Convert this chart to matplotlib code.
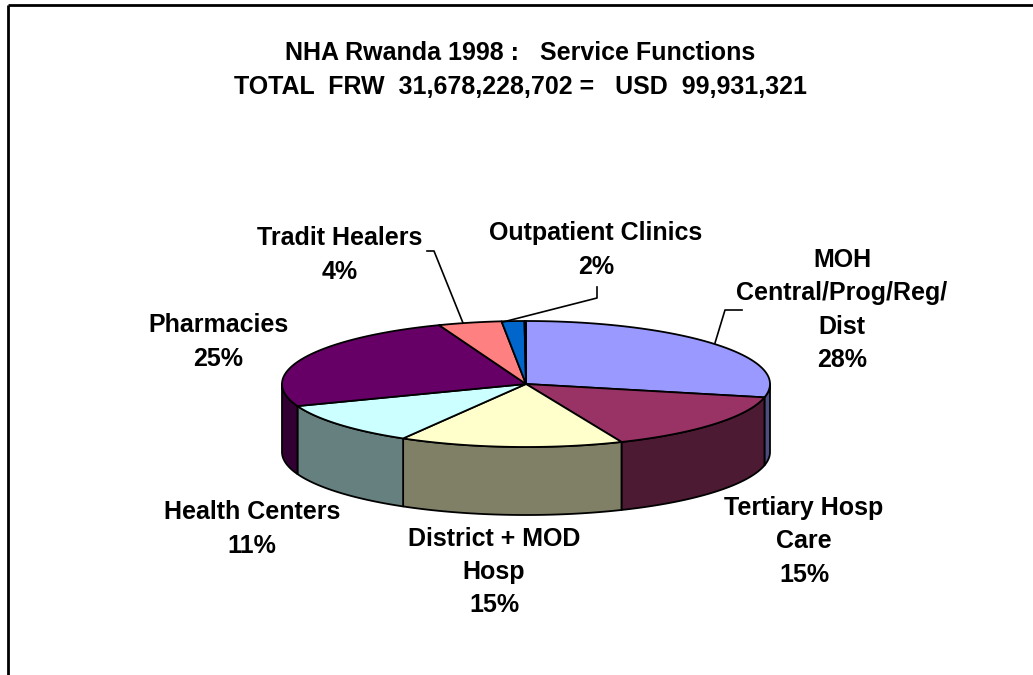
import numpy as np
import matplotlib
matplotlib.use("Agg")
import matplotlib.pyplot as plt
from matplotlib.patches import Polygon

# ---- data ----
categories = ["MOH\nCentral/Prog/Reg/\nDist", "Tertiary Hosp\nCare", "District + MOD\nHosp",
              "Health Centers", "Pharmacies", "Tradit Healers", "Outpatient Clinics", "Other"]
values = [28.4, 15.2, 14.8, 10.9, 24.9, 4.2, 1.5, 0.1]
show_label = [True, True, True, True, True, True, True, False]
top_colors = ["#9999FF", "#993366", "#FFFFCC", "#CCFFFF", "#660066", "#FF8080", "#0066CC", "#FFFFFF"]
title_lines = ["NHA Rwanda 1998 :   Service Functions",
               "TOTAL  FRW  31,678,228,702 =   USD  99,931,321"]

# ---- layout (pixel space) ----
W, H = 1033, 675
cx, cy, rx, ry, depth = 526, 384, 244, 63, 68
label_pos = [(842, 310), (804, 541), (494, 572), (252, 529), (218, 342), (340, 255), (596, 250), None]
leaders = [
    [(742, 310), (725, 310), (715, 343)],
    None, None, None, None,
    [(427, 251), (434, 251), (463, 323)],
    [(597, 287), (597, 298), (503, 322)],
    None,
]

def shade(c, f=0.5):
    r, g, b = matplotlib.colors.to_rgb(c)
    return (r * f, g * f, b * f)

fig = plt.figure(figsize=(W / 100, H / 100), dpi=100)
ax = fig.add_axes([0, 0, 1, 1])
ax.set_xlim(0, W)
ax.set_ylim(H, 0)
ax.axis("off")

def pt(theta_deg, dy=0.0):
    t = np.radians(theta_deg)
    return cx + rx * np.sin(t), cy - ry * np.cos(t) + dy

total = float(sum(values))
bounds = np.concatenate([[0], np.cumsum(values) / total * 360.0])

# side walls
for i, v in enumerate(values):
    a0, a1 = bounds[i], bounds[i + 1]
    s0, s1 = max(a0, 90), min(a1, 270)
    if s1 > s0:
        th = np.linspace(s0, s1, 100)
        up = [pt(t) for t in th]
        lo = [pt(t, depth) for t in th[::-1]]
        ax.add_patch(Polygon(up + lo, closed=True, facecolor=shade(top_colors[i]),
                             edgecolor="black", lw=1.3, zorder=1, joinstyle="round"))

# top faces
for i, v in enumerate(values):
    a0, a1 = bounds[i], bounds[i + 1]
    th = np.linspace(a0, a1, max(3, int((a1 - a0) * 2)))
    poly = [(cx, cy)] + [pt(t) for t in th]
    ax.add_patch(Polygon(poly, closed=True, facecolor=top_colors[i],
                         edgecolor="black", lw=1.3, zorder=2, joinstyle="round"))

font = dict(family="Liberation Sans", weight="bold", fontsize=18, color="black")

for i, v in enumerate(values):
    if not show_label[i]:
        continue
    x, y = label_pos[i]
    ax.text(x, y, f"{categories[i]}\n{v:.0f}%", ha="center", va="center",
            linespacing=1.5, zorder=5, **font)
    if leaders[i]:
        xs, ys = zip(*leaders[i])
        ax.plot(xs, ys, color="black", lw=1.2, zorder=4)

ax.text(520, 70, "\n".join(title_lines), ha="center", va="center", linespacing=1.5, **font)

# frame (top and left)
ax.plot([8, W], [5, 5], color="black", lw=2, solid_capstyle="butt")
ax.plot([8, 8], [5, H], color="black", lw=2, solid_capstyle="butt")

fig.savefig("out.png", dpi=100)
